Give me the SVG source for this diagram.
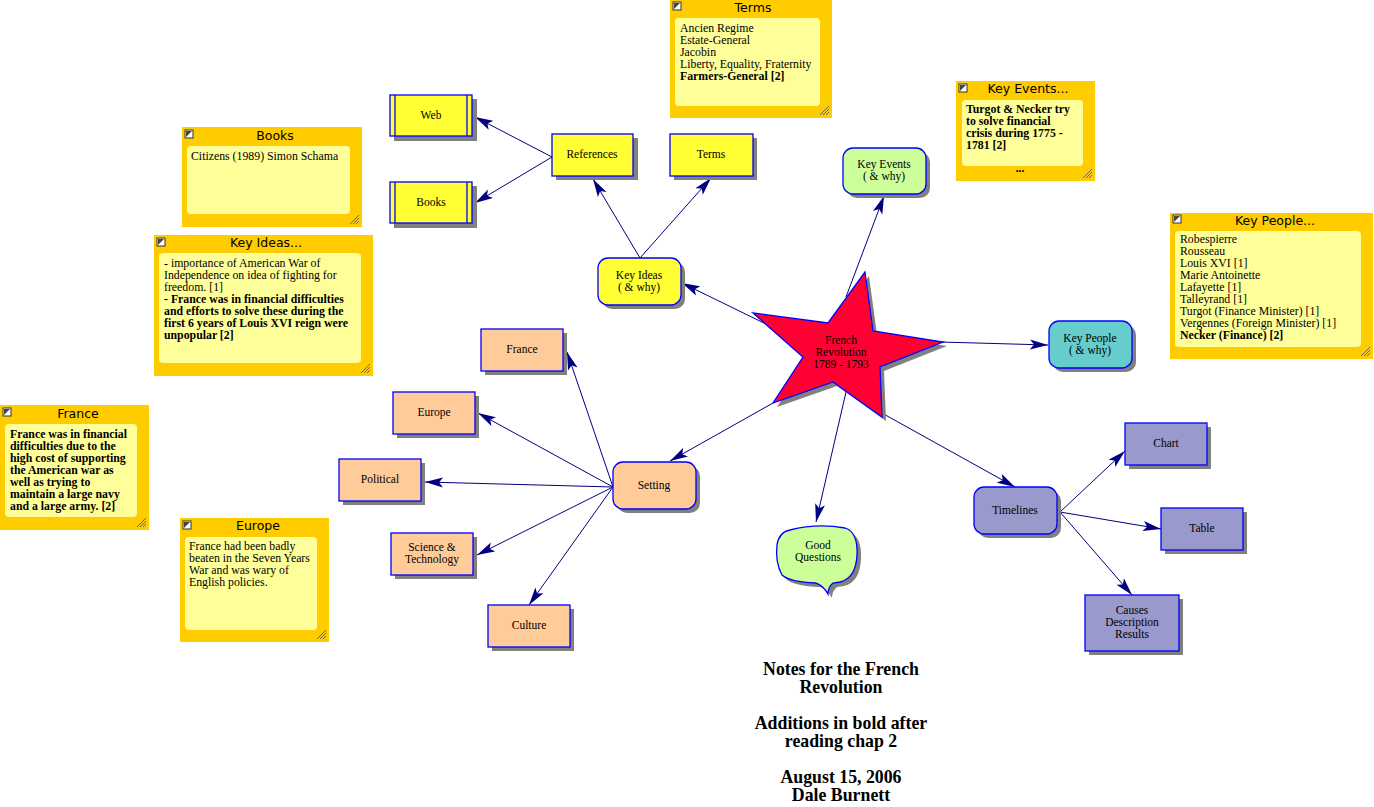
<svg xmlns="http://www.w3.org/2000/svg" width="1374" height="807" viewBox="0 0 1374 807">
<style>
.nt{font-family:"Liberation Serif","Times New Roman",serif;font-size:11.5px;fill:#000;text-anchor:middle}
.bt{font-family:"Liberation Serif","Times New Roman",serif;font-size:11.8px;fill:#000}
.b{font-weight:bold}
.tt{font-family:"DejaVu Sans","Liberation Sans",sans-serif;font-size:12.5px;fill:#000;text-anchor:middle}
.ft{font-family:"Liberation Serif","Times New Roman",serif;font-size:17.8px;font-weight:bold;fill:#000;text-anchor:middle}
.sh{fill:#808080}
.bx{stroke:#0000ff;stroke-width:1.3}
.yel{fill:#ffff33}
.pch{fill:#ffcc99}
.pur{fill:#9999cc}
.grn{fill:#ccff99}
.teal{fill:#66cccc}
.outer{fill:#ffcc00}
.inner{fill:#ffff99}
.cn line{stroke:#000080;stroke-width:1;marker-end:url(#arr)}
</style>
<defs>
<marker id="arr" viewBox="0 0 18 11" refX="18" refY="5.5" markerWidth="18" markerHeight="11" orient="auto" markerUnits="userSpaceOnUse">
<path d="M0,0.5 L18,5.5 L0,10.5 L4,5.5 z" fill="#000080"/>
</marker>
<g id="icon"><rect x="0" y="0" width="8" height="8" fill="#fff" stroke="#333" stroke-width="1"/><path d="M1,1 H7 L1,7 z" fill="#444"/></g>
<g id="grip"><path d="M-10,-1 L-1,-10 M-7,-1 L-1,-7 M-4,-1 L-1,-4" stroke="#666" stroke-width="1"/></g>
</defs>
<rect width="1374" height="807" fill="#fff"/>

<g id="connectors" class="cn">
<line x1="552" y1="157" x2="475" y2="117"/>
<line x1="552" y1="157" x2="475" y2="203"/>
<line x1="640" y1="258" x2="593" y2="179"/>
<line x1="640" y1="258" x2="711" y2="178"/>
<line x1="770" y1="326" x2="682" y2="283"/>
<line x1="846" y1="297" x2="884" y2="196"/>
<line x1="940" y1="342" x2="1048" y2="345"/>
<line x1="773" y1="403" x2="670" y2="461"/>
<line x1="846" y1="392" x2="816" y2="522"/>
<line x1="880" y1="412" x2="1015" y2="487"/>
<line x1="613" y1="487" x2="567" y2="352"/>
<line x1="613" y1="487" x2="478" y2="413"/>
<line x1="613" y1="487" x2="425" y2="482"/>
<line x1="613" y1="487" x2="477" y2="555"/>
<line x1="613" y1="487" x2="529" y2="605"/>
<line x1="1060" y1="512" x2="1125" y2="451"/>
<line x1="1060" y1="512" x2="1161" y2="529"/>
<line x1="1060" y1="512" x2="1132" y2="595"/>
</g>

<g id="star">
<polygon class="sh" transform="translate(4,4)" points="865,272 873,331 943,342 880,367 882,417 833,382 773,403 803,357 753,313 828,323"/>
<polygon fill="#ff0033" stroke="#0000ff" stroke-width="1.3" points="865,272 873,331 943,342 880,367 882,417 833,382 773,403 803,357 753,313 828,323"/>
<text class="nt" x="841" y="344">French</text>
<text class="nt" x="841" y="356">Revolution</text>
<text class="nt" x="841" y="368">1789 - 1793</text>
</g>

<g id="node-web">
<rect class="sh" x="394" y="99" width="83" height="42"/>
<rect class="yel bx" x="390" y="95" width="82" height="41"/>
<line x1="395" y1="95" x2="395" y2="136" stroke="#0000ff" stroke-width="1.3"/>
<line x1="467" y1="95" x2="467" y2="136" stroke="#0000ff" stroke-width="1.3"/>
<text class="nt" x="431" y="119">Web</text>
</g>
<g id="node-books">
<rect class="sh" x="394" y="186" width="83" height="42"/>
<rect class="yel bx" x="390" y="182" width="82" height="41"/>
<line x1="395" y1="182" x2="395" y2="223" stroke="#0000ff" stroke-width="1.3"/>
<line x1="467" y1="182" x2="467" y2="223" stroke="#0000ff" stroke-width="1.3"/>
<text class="nt" x="431" y="206">Books</text>
</g>
<g id="node-references">
<rect class="sh" x="556" y="138" width="82" height="42"/>
<rect class="yel bx" x="552" y="134" width="81" height="42"/>
<text class="nt" x="592" y="158">References</text>
</g>
<g id="node-terms">
<rect class="sh" x="674" y="138" width="83" height="42"/>
<rect class="yel bx" x="670" y="134" width="83" height="42"/>
<text class="nt" x="711" y="158">Terms</text>
</g>
<g id="node-keyideas">
<rect class="sh" x="602" y="262" width="83" height="47" rx="10"/>
<rect class="yel bx" x="598" y="258" width="83" height="47" rx="10"/>
<text class="nt" x="639" y="279">Key Ideas</text>
<text class="nt" x="639" y="291">( &amp; why)</text>
</g>
<g id="node-keyevents">
<rect class="sh" x="847" y="152" width="83" height="46" rx="10"/>
<rect class="grn bx" x="843" y="148" width="83" height="46" rx="10"/>
<text class="nt" x="884" y="168">Key Events</text>
<text class="nt" x="884" y="180">( &amp; why)</text>
</g>
<g id="node-keypeople">
<rect class="sh" x="1053" y="325" width="83" height="47" rx="10"/>
<rect class="teal bx" x="1049" y="321" width="83" height="47" rx="10"/>
<text class="nt" x="1090" y="342">Key People</text>
<text class="nt" x="1090" y="354">( &amp; why)</text>
</g>
<g id="node-setting">
<rect class="sh" x="617" y="466" width="83" height="47" rx="10"/>
<rect class="pch bx" x="613" y="462" width="83" height="47" rx="10"/>
<text class="nt" x="654" y="489">Setting</text>
</g>
<g id="node-timelines">
<rect class="sh" x="978" y="491" width="83" height="47" rx="10"/>
<rect class="pur bx" x="974" y="487" width="83" height="47" rx="10"/>
<text class="nt" x="1015" y="514">Timelines</text>
</g>
<g id="node-france">
<rect class="sh" x="485" y="333" width="82" height="42"/>
<rect class="pch bx" x="481" y="329" width="82" height="42"/>
<text class="nt" x="522" y="353">France</text>
</g>
<g id="node-europe">
<rect class="sh" x="397" y="396" width="82" height="42"/>
<rect class="pch bx" x="393" y="392" width="82" height="42"/>
<text class="nt" x="434" y="416">Europe</text>
</g>
<g id="node-political">
<rect class="sh" x="343" y="463" width="82" height="42"/>
<rect class="pch bx" x="339" y="459" width="82" height="42"/>
<text class="nt" x="380" y="483">Political</text>
</g>
<g id="node-scitech">
<rect class="sh" x="395" y="537" width="82" height="42"/>
<rect class="pch bx" x="391" y="533" width="82" height="42"/>
<text class="nt" x="432" y="551">Science &amp;</text>
<text class="nt" x="432" y="563">Technology</text>
</g>
<g id="node-culture">
<rect class="sh" x="492" y="609" width="82" height="42"/>
<rect class="pch bx" x="488" y="605" width="82" height="42"/>
<text class="nt" x="529" y="629">Culture</text>
</g>
<g id="node-chart">
<rect class="sh" x="1129" y="427" width="82" height="42"/>
<rect class="pur bx" x="1125" y="423" width="82" height="42"/>
<text class="nt" x="1166" y="447">Chart</text>
</g>
<g id="node-table">
<rect class="sh" x="1165" y="512" width="82" height="42"/>
<rect class="pur bx" x="1161" y="508" width="82" height="42"/>
<text class="nt" x="1202" y="532">Table</text>
</g>
<g id="node-causes">
<rect class="sh" x="1089" y="599" width="94" height="56"/>
<rect class="pur bx" x="1085" y="595" width="94" height="56"/>
<text class="nt" x="1132" y="614">Causes</text>
<text class="nt" x="1132" y="626">Description</text>
<text class="nt" x="1132" y="638">Results</text>
</g>
<g id="node-goodquestions">
<path class="sh" transform="translate(4,4)" d="M790,530 Q817,523 845,528 Q858,532 857,555 Q856,578 840,582 L833,583 Q828,587 828,594 Q823,585 816,583 Q790,582 782,575 Q775,562 777,545 Q779,532 790,530 Z"/>
<path class="grn bx" d="M790,530 Q817,523 845,528 Q858,532 857,555 Q856,578 840,582 L833,583 Q828,587 828,594 Q823,585 816,583 Q790,582 782,575 Q775,562 777,545 Q779,532 790,530 Z"/>
<text class="nt" x="818" y="549">Good</text>
<text class="nt" x="818" y="561">Questions</text>
</g>

<g id="note-terms">
<rect class="outer" x="670" y="0" width="162" height="118"/>
<use href="#icon" x="673" y="2"/>
<text class="tt" x="753" y="12">Terms</text>
<rect class="inner" x="675" y="18" width="145" height="88" rx="4"/>
<text class="bt" x="680" y="32">Ancien Regime</text>
<text class="bt" x="680" y="44">Estate-General</text>
<text class="bt" x="680" y="56">Jacobin</text>
<text class="bt" x="680" y="68">Liberty, Equality, Fraternity</text>
<text class="bt b" x="680" y="80">Farmers-General [2]</text>
<use href="#grip" x="830" y="116"/>
</g>
<g id="note-books">
<rect class="outer" x="182" y="127" width="180" height="100"/>
<use href="#icon" x="185" y="130"/>
<text class="tt" x="275" y="140">Books</text>
<rect class="inner" x="187" y="146" width="163" height="68" rx="4"/>
<text class="bt" x="191" y="160">Citizens (1989) Simon Schama</text>
<use href="#grip" x="360" y="225"/>
</g>
<g id="note-keyideas">
<rect class="outer" x="154" y="235" width="219" height="141"/>
<use href="#icon" x="157" y="238"/>
<text class="tt" x="266" y="247">Key Ideas...</text>
<rect class="inner" x="159" y="253" width="202" height="110" rx="4"/>
<text class="bt" x="164" y="267">- importance of American War of</text>
<text class="bt" x="164" y="279">Independence on idea of fighting for</text>
<text class="bt" x="164" y="291">freedom. [1]</text>
<text class="bt b" x="164" y="303">- France was in financial difficulties</text>
<text class="bt b" x="164" y="315">and efforts to solve these during the</text>
<text class="bt b" x="164" y="327">first 6 years of Louis XVI reign were</text>
<text class="bt b" x="164" y="339">unpopular [2]</text>
<use href="#grip" x="371" y="374"/>
</g>
<g id="note-keyevents">
<rect class="outer" x="956" y="81" width="139" height="100"/>
<use href="#icon" x="959" y="84"/>
<text class="tt" x="1028" y="93">Key Events...</text>
<rect class="inner" x="962" y="100" width="121" height="66" rx="4"/>
<text class="bt b" x="966" y="113">Turgot &amp; Necker try</text>
<text class="bt b" x="966" y="125">to solve financial</text>
<text class="bt b" x="966" y="137">crisis during 1775 -</text>
<text class="bt b" x="966" y="149">1781 [2]</text>
<text class="nt b" x="1020" y="172">...</text>
<use href="#grip" x="1093" y="179"/>
</g>
<g id="note-keypeople">
<rect class="outer" x="1170" y="213" width="203" height="146"/>
<use href="#icon" x="1173" y="215"/>
<text class="tt" x="1275" y="225">Key People...</text>
<rect class="inner" x="1175" y="231" width="186" height="116" rx="4"/>
<text class="bt" x="1180" y="243">Robespierre</text>
<text class="bt" x="1180" y="255">Rousseau</text>
<text class="bt" x="1180" y="267">Louis XVI [1]</text>
<text class="bt" x="1180" y="279">Marie Antoinette</text>
<text class="bt" x="1180" y="291">Lafayette [1]</text>
<text class="bt" x="1180" y="303">Talleyrand [1]</text>
<text class="bt" x="1180" y="315">Turgot (Finance Minister) [1]</text>
<text class="bt" x="1180" y="327">Vergennes (Foreign Minister) [1]</text>
<text class="bt b" x="1180" y="339">Necker (Finance) [2]</text>
<use href="#grip" x="1371" y="357"/>
</g>
<g id="note-france">
<rect class="outer" x="0" y="405" width="149" height="125"/>
<use href="#icon" x="3" y="408"/>
<text class="tt" x="78" y="418">France</text>
<rect class="inner" x="5" y="424" width="132" height="93" rx="4"/>
<text class="bt b" x="10" y="438">France was in financial</text>
<text class="bt b" x="10" y="450">difficulties due to the</text>
<text class="bt b" x="10" y="462">high cost of supporting</text>
<text class="bt b" x="10" y="474">the American war as</text>
<text class="bt b" x="10" y="486">well as trying to</text>
<text class="bt b" x="10" y="498">maintain a large navy</text>
<text class="bt b" x="10" y="510">and a large army. [2]</text>
<use href="#grip" x="147" y="528"/>
</g>
<g id="note-europe">
<rect class="outer" x="180" y="518" width="149" height="124"/>
<use href="#icon" x="183" y="521"/>
<text class="tt" x="258" y="530">Europe</text>
<rect class="inner" x="185" y="537" width="132" height="93" rx="4"/>
<text class="bt" x="189" y="550">France had been badly</text>
<text class="bt" x="189" y="562">beaten in the Seven Years</text>
<text class="bt" x="189" y="574">War and was wary of</text>
<text class="bt" x="189" y="586">English policies.</text>
<use href="#grip" x="327" y="640"/>
</g>

<g id="footer">
<text class="ft" x="841" y="675">Notes for the French</text>
<text class="ft" x="841" y="693">Revolution</text>
<text class="ft" x="841" y="729">Additions in bold after</text>
<text class="ft" x="841" y="747">reading chap 2</text>
<text class="ft" x="841" y="783">August 15, 2006</text>
<text class="ft" x="841" y="801">Dale Burnett</text>
</g>
</svg>
